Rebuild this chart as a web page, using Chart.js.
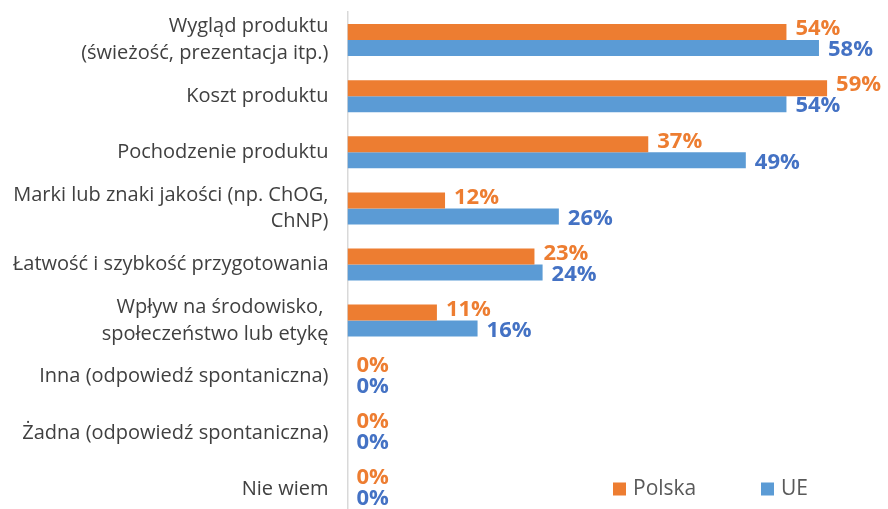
<!DOCTYPE html>
<html>
<head>
<meta charset="utf-8">
<script src="https://cdn.jsdelivr.net/npm/chart.js@4/dist/chart.umd.min.js"></script>
<style>
  html, body { margin: 0; padding: 0; background: #ffffff; overflow: hidden; }
  #wrap { position: relative; width: 888px; height: 520px; }
</style>
</head>
<body>
<div id="wrap"><canvas id="c" width="888" height="520"></canvas></div>
<script>
const categories = [
  ["Wygląd produktu", "(świeżość, prezentacja itp.)"],
  "Koszt produktu",
  "Pochodzenie produktu",
  ["Marki lub znaki jakości (np. ChOG,", "ChNP)"],
  "Łatwość i szybkość przygotowania",
  ["Wpływ na środowisko, ", "społeczeństwo lub etykę"],
  "Inna (odpowiedź spontaniczna)",
  "Żadna (odpowiedź spontaniczna)",
  "Nie wiem"
];
const seriesNames = ["Polska", "UE"];
const polska = [54, 59, 37, 12, 23, 11, 0, 0, 0];
const ue = [58, 54, 49, 26, 24, 16, 0, 0, 0];

const barColors = ["#ED7D31", "#5B9BD5"];
const labelColors = ["#ED7D31", "#4472C4"];
const FONT = "'Open Sans', sans-serif";

const valueLabels = {
  id: 'valueLabels',
  afterDatasetsDraw(chart) {
    const ctx = chart.ctx;
    ctx.save();
    ctx.font = "bold 22px " + FONT;
    ctx.textAlign = 'left';
    ctx.textBaseline = 'middle';
    chart.data.datasets.forEach((ds, di) => {
      const meta = chart.getDatasetMeta(di);
      meta.data.forEach((bar, i) => {
        ctx.fillStyle = labelColors[di];
        const dy = di === 0 ? -3 : 2;
        ctx.fillText(ds.data[i] + '%', bar.x + 9, bar.y + dy);
      });
    });
    ctx.restore();
  }
};

const customLegend = {
  id: 'customLegend',
  afterDraw(chart) {
    const ctx = chart.ctx;
    ctx.save();
    ctx.font = "21px " + FONT;
    ctx.textBaseline = 'middle';
    ctx.textAlign = 'left';
    const xs = [613, 761];
    const yc = 489;
    chart.data.datasets.forEach((ds, di) => {
      ctx.fillStyle = ds.backgroundColor;
      ctx.fillRect(xs[di], yc - 6.5, 13, 13);
      ctx.fillStyle = '#595959';
      ctx.fillText(ds.label, xs[di] + 20, yc);
    });
    ctx.restore();
  }
};

new Chart(document.getElementById('c'), {
  type: 'bar',
  data: {
    labels: categories,
    datasets: [
      { label: seriesNames[0], data: polska, backgroundColor: barColors[0] },
      { label: seriesNames[1], data: ue, backgroundColor: barColors[1] }
    ]
  },
  options: {
    indexAxis: 'y',
    responsive: false,
    animation: false,
    layout: { padding: { top: 12, right: 4, bottom: 3, left: 0 } },
    datasets: { bar: { barPercentage: 1.0, categoryPercentage: 0.57 } },
    plugins: { legend: { display: false }, tooltip: { enabled: false } },
    scales: {
      x: { display: false, min: 0, max: 66 },
      y: {
        grid: { display: false, drawTicks: false },
        border: { display: true, color: '#D9D9D9', width: 1.5 },
        ticks: { color: '#404040', font: { family: FONT, size: 20, lineHeight: 1.33 }, padding: 19, autoSkip: false },
        afterFit(scale) {
          scale.width = 347.5;
          scale.paddingTop = 0;
          scale.paddingBottom = 0;
        }
      }
    }
  },
  plugins: [valueLabels, customLegend]
});
</script>
</body>
</html>
